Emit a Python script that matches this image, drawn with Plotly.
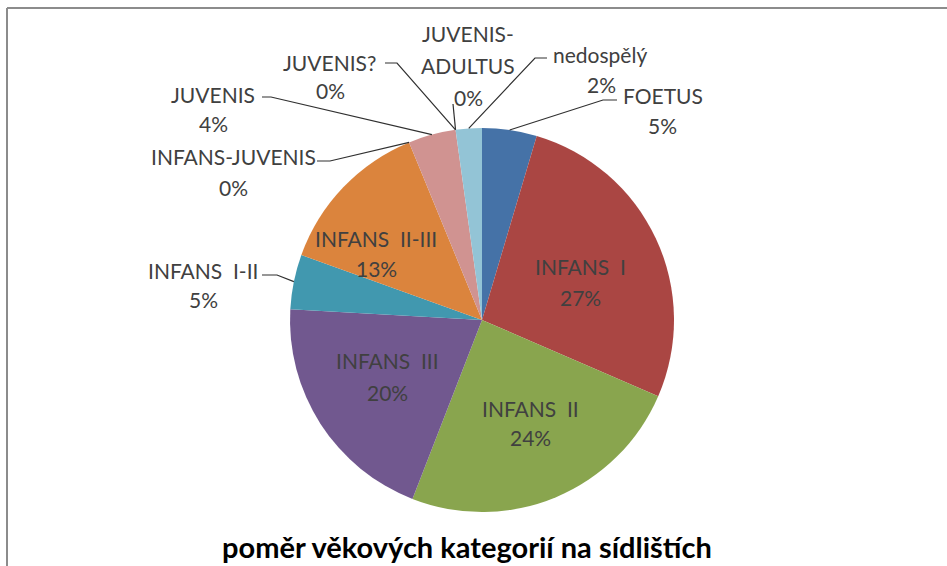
import math
import plotly.graph_objects as go

W, H = 947, 566

categories = ["FOETUS", "INFANS I", "INFANS II", "INFANS III", "INFANS I-II",
              "INFANS II-III", "INFANS-JUVENIS", "JUVENIS", "JUVENIS?",
              "JUVENIS-ADULTUS", "nedospělý"]
values = [4.6, 26.9, 24.4, 20.0, 4.6, 13.3, 0.0, 4.0, 0.0, 0.0, 2.2]
colors = ["#4572A7", "#AA4643", "#89A54E", "#71588F", "#4198AF", "#DB843D",
          "#93A9CF", "#D09391", "#B9CD96", "#A99BBD", "#93C4D6"]
title_text = "poměr věkových kategorií na sídlištích"

# label display lines (name may wrap)
name_lines = {"JUVENIS-ADULTUS": ["JUVENIS-", "ADULTUS"],
              "INFANS I": ["INFANS  I"], "INFANS II": ["INFANS  II"],
              "INFANS III": ["INFANS  III"], "INFANS I-II": ["INFANS  I-II"],
              "INFANS II-III": ["INFANS  II-III"]}

# text placement (pixel centres): list of name-line positions, then pct position
label_pos = {
    "FOETUS": ([(663, 96)], (662, 125)),
    "INFANS I": ([(580, 266)], (580, 297)),
    "INFANS II": ([(530, 408)], (530, 438)),
    "INFANS III": ([(387, 360)], (387, 392)),
    "INFANS I-II": ([(203, 270)], (203, 299)),
    "INFANS II-III": ([(376, 238)], (376, 268)),
    "INFANS-JUVENIS": ([(233, 157)], (233, 187)),
    "JUVENIS": ([(213, 95)], (213, 123)),
    "JUVENIS?": ([(329, 62)], (330, 90)),
    "JUVENIS-ADULTUS": ([(468, 34), (468, 66)], (468, 97)),
    "nedospělý": ([(600, 54)], (601, 85)),
}
# leader lines: (label end, elbow) in pixels; end on pie computed from data
leaders = {
    "FOETUS": [(617, 100), (603, 100)],
    "nedospělý": [(547, 58), (535, 58)],
    "JUVENIS-ADULTUS": [(453, 104)],
    "JUVENIS?": [(385, 63), (397, 63)],
    "JUVENIS": [(262, 97), (271, 97)],
    "INFANS-JUVENIS": [(317, 161), (330, 161)],
    "INFANS I-II": [(262, 275), (277, 275)],
}

cx, cy, R = 482, 320, 192


def px(x):
    return x / W


def py(y):
    return 1 - y / H


fig = go.Figure(go.Pie(
    labels=categories, values=values, sort=False, direction="clockwise",
    rotation=0, textinfo="none", hoverinfo="label+percent",
    marker=dict(colors=colors, line=dict(width=0)),
    domain=dict(x=[px(cx - R), px(cx + R)], y=[py(cy + R), py(cy - R)]),
    showlegend=False,
))

total = sum(values)
annotations = []
shapes = []
font = dict(family="Lato, Carlito, sans-serif", size=21, color="#404040")
cum = 0.0
for cat, v in zip(categories, values):
    mid = (cum + v / 2) / total
    cum += v
    pct = f"{round(100 * v / total)}%"
    names = name_lines.get(cat, [cat])
    npos, ppos = label_pos[cat]
    for t, (x, y) in zip(names, npos):
        annotations.append(dict(x=px(x), y=py(y), xref="paper", yref="paper",
                                text=t.replace("  ", "&nbsp; "),
                                showarrow=False, font=font,
                                xanchor="center", yanchor="middle"))
    annotations.append(dict(x=px(ppos[0]), y=py(ppos[1]), xref="paper",
                            yref="paper", text=pct, showarrow=False, font=font,
                            xanchor="center", yanchor="middle"))
    if cat in leaders:
        ang = 2 * math.pi * mid
        ex = cx + R * math.sin(ang)
        ey = cy - R * math.cos(ang)
        pts = leaders[cat] + [(ex, ey)]
        path = "M " + " L ".join(f"{px(a):.5f},{py(b):.5f}" for a, b in pts)
        shapes.append(dict(type="path", path=path, xref="paper", yref="paper",
                           line=dict(color="#303030", width=1.2)))

annotations.append(dict(x=px(467), y=py(546), xref="paper", yref="paper",
                        text=f"<b>{title_text}</b>", showarrow=False,
                        font=dict(family="Lato, sans-serif", size=29,
                                  color="#000000"),
                        xanchor="center", yanchor="middle"))

# chart frame
shapes.append(dict(type="line", xref="paper", yref="paper",
                   x0=px(7), x1=px(7), y0=py(8), y1=0,
                   line=dict(color="#8c8c8c", width=2)))
shapes.append(dict(type="line", xref="paper", yref="paper",
                   x0=px(7), x1=1, y0=py(8), y1=py(8),
                   line=dict(color="#8c8c8c", width=2)))

fig.update_layout(
    width=W, height=H, margin=dict(l=0, r=0, t=0, b=0),
    paper_bgcolor="white", plot_bgcolor="white",
    annotations=annotations, shapes=shapes,
)
fig.write_html(
    "out.html",
    config={"displayModeBar": False},
    post_script="document.body.style.margin='0';document.body.style.overflow='hidden';",
)
